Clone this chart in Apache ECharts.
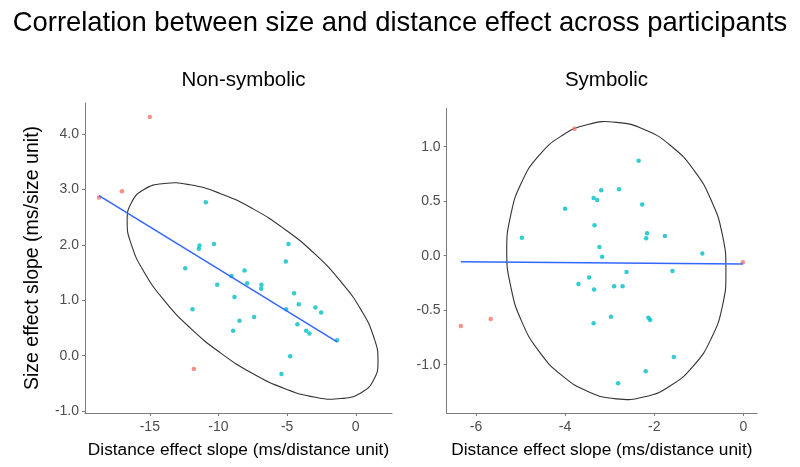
<!DOCTYPE html>
<html>
<head>
<meta charset="utf-8">
<script src="https://cdn.jsdelivr.net/npm/echarts@6/dist/echarts.min.js"></script>
<style>
  html, body { margin: 0; padding: 0; background: #fff; }
  #chart { width: 800px; height: 467px; }
</style>
</head>
<body>
<div id="chart"></div>
<script>
// Non-symbolic panel: points inside the ellipse and outliers
const nsInDist = [-10.92, -11.38, -11.43, -10.33, -12.42, -9.05, -8.1, -10.09, -7.91, -6.87, -6.89, -8.83, -11.89, -4.9, -5.09, -4.49, -4.15, -5.07, -2.94, -2.52, -7.4, -8.47, -4.25, -8.93, -3.61, -3.37, -1.36, -4.78, -5.41];
const nsInSize = [2.77, 1.99, 1.93, 2.02, 1.58, 1.44, 1.54, 1.28, 1.31, 1.28, 1.21, 1.06, 0.84, 2.02, 1.70, 1.13, 0.93, 0.84, 0.87, 0.78, 0.70, 0.63, 0.57, 0.45, 0.45, 0.40, 0.28, -0.01, -0.33];
const nsOutDist = [-15.0, -17.03, -18.7, -11.79];
const nsOutSize = [4.31, 2.97, 2.86, -0.24];
const nsFitDist = [-18.7, -1.36];
const nsFitSize = [2.89, 0.25];
// 95% ellipse outline
const nsEllDist = [1.62, 1.31, 0.40, -1.06, -2.94, -5.15, -7.51, -9.88, -12.08, -13.97, -15.42, -16.33, -16.65, -16.33, -15.42, -13.97, -12.08, -9.88, -7.51, -5.15, -2.94, -1.06, 0.40, 1.31];
const nsEllSize = [-0.090, -0.433, -0.668, -0.774, -0.751, -0.596, -0.321, 0.056, 0.507, 1.005, 1.513, 1.998, 2.426, 2.769, 3.002, 3.110, 3.087, 2.931, 2.657, 2.280, 1.829, 1.330, 0.823, 0.338];

// Symbolic panel
const syInDist = [-2.35, -2.79, -3.19, -3.36, -3.28, -4.0, -2.27, -3.34, -4.97, -2.16, -2.18, -1.76, -3.23, -3.17, -0.92, -2.62, -1.59, -3.46, -3.70, -2.90, -2.71, -3.35, -2.97, -2.13, -2.09, -3.36, -1.56, -2.19, -2.81];
const syInSize = [0.87, 0.61, 0.60, 0.53, 0.51, 0.43, 0.47, 0.28, 0.165, 0.205, 0.16, 0.18, 0.08, -0.01, 0.02, -0.15, -0.14, -0.20, -0.26, -0.28, -0.28, -0.31, -0.56, -0.57, -0.59, -0.62, -0.93, -1.06, -1.17];
const syOutDist = [-3.79, -0.01, -6.34, -5.67];
const syOutSize = [1.165, -0.06, -0.645, -0.58];
const syFitDist = [-6.34, -0.01];
const syFitSize = [-0.055, -0.076];
const syEllDist = [-0.39, -0.47, -0.72, -1.11, -1.62, -2.21, -2.85, -3.49, -4.08, -4.59, -4.98, -5.22, -5.31, -5.22, -4.98, -4.59, -4.08, -3.49, -2.85, -2.21, -1.62, -1.11, -0.72, -0.47];
const syEllSize = [-0.138, -0.464, -0.760, -1.007, -1.189, -1.294, -1.313, -1.245, -1.096, -0.875, -0.598, -0.283, 0.047, 0.373, 0.670, 0.917, 1.099, 1.204, 1.223, 1.155, 1.006, 0.785, 0.508, 0.193];

const nsXTicks = [-15, -10, -5, 0];
const nsYTicks = [-1, 0, 1, 2, 3, 4];
const syXTicks = [-6, -4, -2, 0];
const syYTicks = [-1, -0.5, 0, 0.5, 1];

const FONT = '"Liberation Sans", Arial, sans-serif';

function pairs(xs, ys) {
  return xs.map((x, i) => [x, ys[i]]);
}

function xAxisFor(grid, min, max, ticks) {
  return {
    type: 'value', gridIndex: grid, min: min, max: max,
    name: 'Distance effect slope (ms/distance unit)',
    nameLocation: 'middle', nameGap: 29,
    nameTextStyle: { fontFamily: FONT, fontSize: 17.3, color: '#000' },
    splitLine: { show: false },
    axisLine: { onZero: false, lineStyle: { color: '#7a7a7a', width: 1 } },
    axisTick: { customValues: ticks, length: 3, lineStyle: { color: '#7a7a7a' } },
    axisLabel: { customValues: ticks, margin: 7, fontFamily: FONT, fontSize: 14, color: '#4d4d4d' }
  };
}
function yAxisFor(grid, min, max, ticks, name) {
  return {
    type: 'value', gridIndex: grid, min: min, max: max,
    name: name, nameLocation: 'middle', nameGap: 42,
    nameTextStyle: { fontFamily: FONT, fontSize: 19.5, color: '#000' },
    splitLine: { show: false },
    axisLine: { onZero: false, lineStyle: { color: '#7a7a7a', width: 1 } },
    axisTick: { customValues: ticks, length: 3, lineStyle: { color: '#7a7a7a' } },
    axisLabel: {
      customValues: ticks, margin: 6, fontFamily: FONT, fontSize: 14, color: '#4d4d4d',
      formatter: v => v.toFixed(1)
    }
  };
}

function panelSeries(idx, inD, inS, outD, outS, fitD, fitS, ellD, ellS) {
  const outline = pairs(ellD, ellS);
  return [
    {
      // closed smooth outline, mapped through the panel's axes
      type: 'custom', xAxisIndex: idx, yAxisIndex: idx, silent: true,
      data: [outline[0]],
      renderItem: function (params, api) {
        return {
          type: 'polygon',
          shape: { points: outline.map(p => api.coord(p)), smooth: 0.5, smoothConstraint: false },
          style: { fill: 'none', stroke: '#333', lineWidth: 1.1 }
        };
      }
    },
    {
      type: 'scatter', xAxisIndex: idx, yAxisIndex: idx, data: pairs(inD, inS),
      symbolSize: 4.5, itemStyle: { color: '#00BFC4' }
    },
    {
      type: 'scatter', xAxisIndex: idx, yAxisIndex: idx, data: pairs(outD, outS),
      symbolSize: 4.5, itemStyle: { color: '#F8766D' }
    },
    {
      type: 'line', xAxisIndex: idx, yAxisIndex: idx, data: pairs(fitD, fitS),
      symbol: 'none', lineStyle: { color: '#3366FF', width: 1.5 }
    }
  ];
}

const chart = echarts.init(document.getElementById('chart'));
chart.setOption({
  animation: false,
  backgroundColor: '#fff',
  title: [
    {
      text: 'Correlation between size and distance effect across participants',
      left: 'center', top: 5,
      textStyle: { fontFamily: FONT, fontSize: 27.4, fontWeight: 'normal', color: '#000' }
    },
    {
      text: 'Non-symbolic', left: 238.5, top: 65, textAlign: 'center',
      textStyle: { fontFamily: FONT, fontSize: 20.5, fontWeight: 'normal', color: '#000' }
    },
    {
      text: 'Symbolic', left: 601.5, top: 65, textAlign: 'center',
      textStyle: { fontFamily: FONT, fontSize: 20.5, fontWeight: 'normal', color: '#000' }
    }
  ],
  grid: [
    { left: 85, top: 103, width: 307, height: 310 },
    { left: 446.6, top: 108.4, width: 310.5, height: 304.5 }
  ],
  xAxis: [
    xAxisFor(0, -19.72, 2.64, nsXTicks),
    xAxisFor(1, -6.66, 0.31, syXTicks)
  ],
  yAxis: [
    yAxisFor(0, -1.035, 4.565, nsYTicks, 'Size effect slope (ms/size unit)'),
    yAxisFor(1, -1.442, 1.351, syYTicks, '')
  ],
  series: panelSeries(0, nsInDist, nsInSize, nsOutDist, nsOutSize, nsFitDist, nsFitSize, nsEllDist, nsEllSize)
    .concat(panelSeries(1, syInDist, syInSize, syOutDist, syOutSize, syFitDist, syFitSize, syEllDist, syEllSize))
});
</script>
</body>
</html>
